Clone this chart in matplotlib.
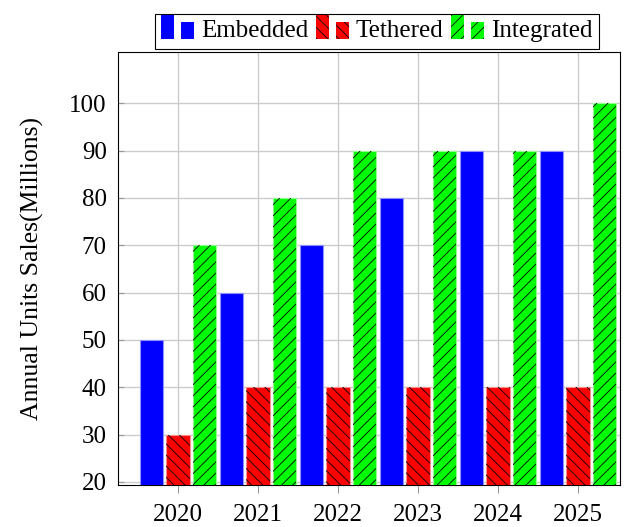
import numpy as np
import matplotlib.pyplot as plt
from matplotlib.legend_handler import HandlerBase
from matplotlib.patches import Rectangle

plt.rcParams['font.family'] = ['Liberation Serif', 'DejaVu Serif']
plt.rcParams['hatch.linewidth'] = 0.6

years = [2020, 2021, 2022, 2023, 2024, 2025]
embedded = [50, 60, 70, 80, 90, 90]
tethered = [30, 40, 40, 40, 40, 40]
integrated = [70, 80, 90, 90, 90, 100]

styles = [
    ('Embedded', embedded, '#0000ff', '#9090ff', ''),
    ('Tethered', tethered, '#ff0000', '#ff9090', '\\\\\\'),
    ('Integrated', integrated, '#00ff00', '#90ff90', '///'),
]


class TwoBars(HandlerBase):
    def create_artists(self, legend, orig, xd, yd, w, h, fontsize, trans):
        arts = []
        for x0, hh in [(0, h * 1.35), (w * 0.58, h * 1.0)]:
            r = Rectangle((x0 - xd, -yd - h * 0.1), w * 0.38, hh,
                          facecolor=orig.get_facecolor(), edgecolor='black',
                          hatch=orig.get_hatch(), lw=0, transform=trans)
            arts.append(r)
        return arts


fig, ax = plt.subplots(figsize=(6.34, 5.27), dpi=100)
fig.subplots_adjust(left=0.186, right=0.978, top=0.901, bottom=0.08)

x = np.array(years, dtype=float)
w = 0.29
offsets = [-0.333, 0, 0.333]
handles = []
for (name, vals, fc, ec, hatch), off in zip(styles, offsets):
    ax.bar(x + off, vals, w, color=fc, edgecolor=ec, lw=0.8, zorder=3)
    if hatch:
        ax.bar(x + off, vals, w, facecolor='none', edgecolor='black', hatch=hatch, lw=0, zorder=4)
    handles.append(Rectangle((0, 0), 1, 1, facecolor=fc, hatch=hatch))

ax.set_xlim(2019.25, 2025.525)
ax.set_ylim(19.4, 110.8)
ax.set_xticks(years)
ax.set_yticks(range(20, 101, 10))
ax.tick_params(labelsize=18, color='0.6')
ax.tick_params(axis='x', direction='out', length=6, pad=8)
ax.tick_params(axis='y', direction='in', length=4, pad=8)
ax.grid(True, color='#cccccc', lw=1, zorder=0)
ax.set_ylabel('Annual Units Sales(Millions)', fontsize=18.5, labelpad=18)
for s in ax.spines.values():
    s.set_linewidth(0.8)

leg = fig.legend(handles, [s[0] for s in styles],
                 handler_map={Rectangle: TwoBars()}, ncol=3, fontsize=18,
                 loc='center', bbox_to_anchor=(0.594, 0.941), fancybox=False,
                 edgecolor='black', framealpha=1, handlelength=1.4, handletextpad=0.2,
                 columnspacing=0.3, borderpad=0.25)
leg.get_frame().set_linewidth(0.8)

fig.savefig('out.png', dpi=100)
